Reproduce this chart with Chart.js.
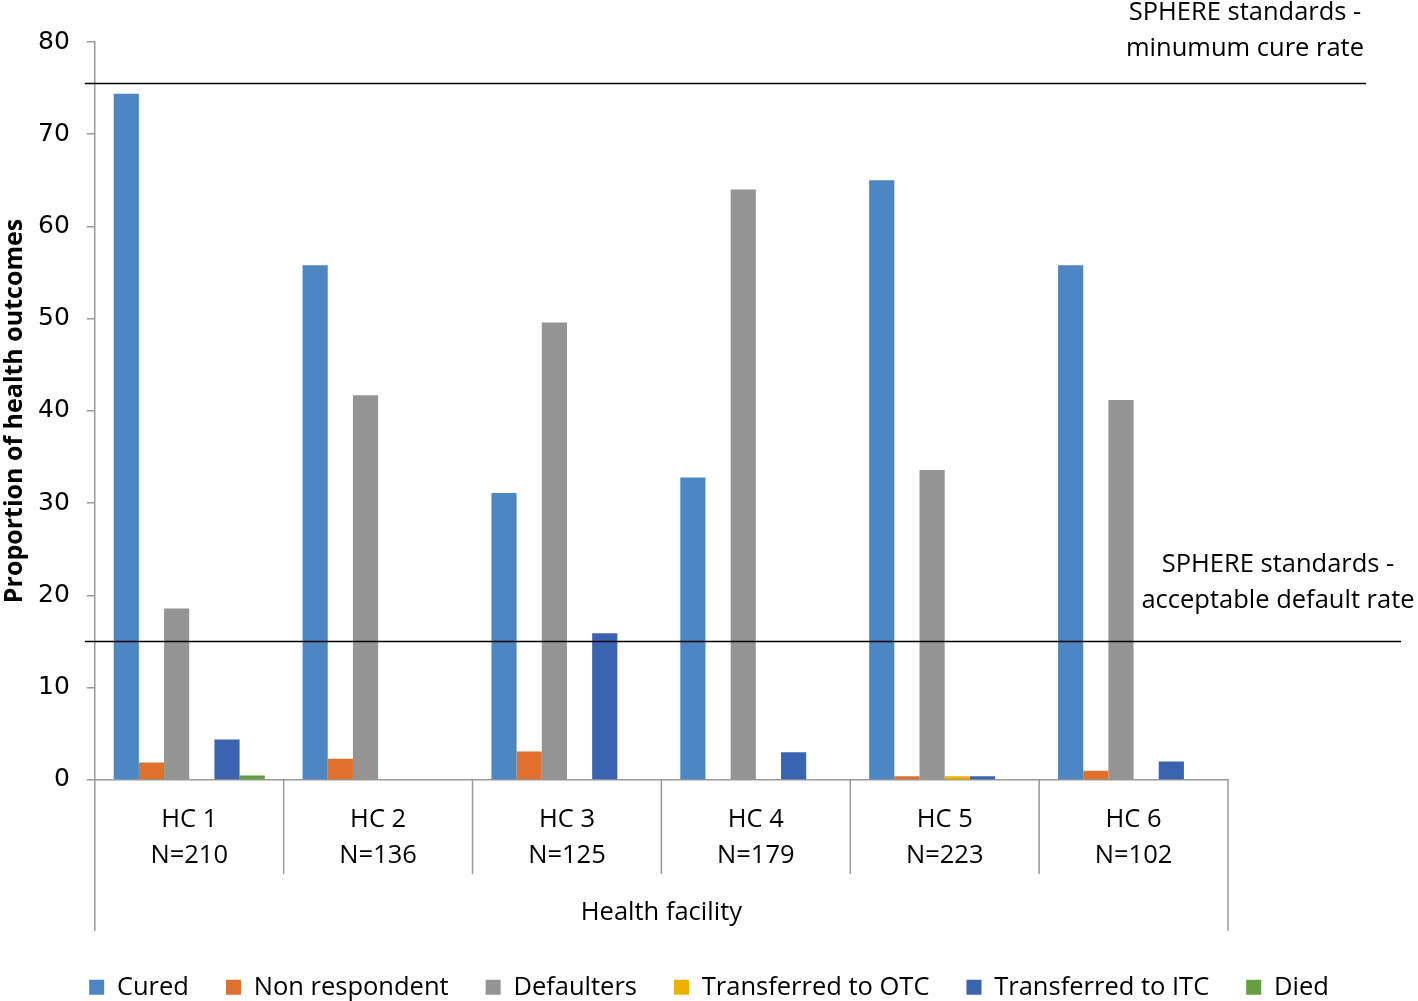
<!DOCTYPE html>
<html>
<head>
<meta charset="utf-8">
<script src="https://cdn.jsdelivr.net/npm/chart.js@4"></script>
<style>
  body { margin: 0; background: #fff; }
  #wrap { width: 1418px; height: 1001px; }
</style>
</head>
<body>
<div id="wrap"><canvas id="outcomeChart"></canvas></div>
<script>
// facilities and sample sizes
const facilities = ['HC 1', 'HC 2', 'HC 3', 'HC 4', 'HC 5', 'HC 6'];
const sampleSizes = ['N=210', 'N=136', 'N=125', 'N=179', 'N=223', 'N=102'];

// outcome proportions per facility
const cured = [74.4, 55.8, 31.1, 32.8, 65.0, 55.8];
const nonRespondent = [1.9, 2.3, 3.1, 0, 0.4, 1.0];
const defaulters = [18.6, 41.7, 49.6, 64.0, 33.6, 41.2];
const transferredOTC = [0, 0, 0, 0, 0.4, 0];
const transferredITC = [4.4, 0, 15.9, 3.0, 0.4, 2.0];
const died = [0.5, 0, 0, 0, 0, 0];

const yTicks = [0, 10, 20, 30, 40, 50, 60, 70, 80];

// SPHERE reference lines (the cure-rate line sits slightly above 75 in the figure)
const cureRateStandard = 75.5;
const defaultRateStandard = 15;

const textFont = '"Open Sans", sans-serif';

// draws the standard lines, their labels and the category separators under the axis
const extrasPlugin = {
    id: 'extras',
    afterDatasetsDraw(chart) {
        const ctx = chart.ctx;
        const area = chart.chartArea;
        const y = chart.scales.y;
        const x = chart.scales.x;
        ctx.save();

        // reference lines
        ctx.strokeStyle = '#000';
        ctx.lineWidth = 1.5;
        const yCure = y.getPixelForValue(cureRateStandard);
        const yDef = y.getPixelForValue(defaultRateStandard);
        ctx.beginPath();
        ctx.moveTo(area.left - 10, yCure);
        ctx.lineTo(area.right + 138, yCure);
        ctx.moveTo(area.left - 10, yDef);
        ctx.lineTo(area.right + 173, yDef);
        ctx.stroke();

        ctx.fillStyle = '#000';
        ctx.font = '25.5px ' + textFont;
        ctx.textAlign = 'center';
        ctx.textBaseline = 'middle';
        ctx.fillText('SPHERE standards -', area.right + 17, yCure - 71);
        ctx.fillText('minumum cure rate', area.right + 17, yCure - 35);
        ctx.fillText('SPHERE standards -', area.right + 50, yDef - 77);
        ctx.fillText('acceptable default rate', area.right + 50, yDef - 41);

        // category separators below the x axis
        const step = (x.right - x.left) / facilities.length;
        ctx.strokeStyle = '#9a9a9a';
        ctx.lineWidth = 1.5;
        ctx.beginPath();
        for (let i = 0; i <= facilities.length; i++) {
            const px = x.left + i * step;
            const outer = (i === 0 || i === facilities.length);
            ctx.moveTo(px, area.bottom);
            ctx.lineTo(px, area.bottom + (outer ? 151 : 94));
        }
        ctx.stroke();

        ctx.restore();
    }
};

const colors = ['#4d87c3', '#e0702e', '#949494', '#f0b000', '#3b64b0', '#64a040'];
const seriesNames = ['Cured', 'Non respondent', 'Defaulters', 'Transferred to OTC', 'Transferred to ITC', 'Died'];
const seriesValues = [cured, nonRespondent, defaulters, transferredOTC, transferredITC, died];

const datasets = seriesNames.map((name, i) => ({
    label: name,
    data: seriesValues[i],
    backgroundColor: colors[i],
    borderWidth: 0,
    categoryPercentage: 0.8,
    barPercentage: 1.0
}));

const ctx = document.getElementById('outcomeChart').getContext('2d');

new Chart(ctx, {
    type: 'bar',
    data: {
        labels: facilities.map((f, i) => [f, sampleSizes[i]]),
        datasets: datasets
    },
    plugins: [extrasPlugin],
    options: {
        responsive: true,
        maintainAspectRatio: false,
        animation: false,
        layout: {
            padding: { top: 42, right: 0, left: 0, bottom: -9 }
        },
        plugins: {
            tooltip: { enabled: false },
            legend: {
                position: 'bottom',
                labels: {
                    font: { family: textFont, size: 25.5 },
                    color: '#000',
                    boxWidth: 15,
                    boxHeight: 15,
                    padding: 37
                }
            }
        },
        scales: {
            y: {
                min: 0,
                max: 80,
                afterBuildTicks: axis => { axis.ticks = yTicks.map(v => ({ value: v })); },
                grid: { drawOnChartArea: false, tickLength: 8, color: '#9a9a9a', lineWidth: 1.5 },
                border: { color: '#9a9a9a', width: 1.5 },
                ticks: {
                    font: { family: '"DejaVu Sans", sans-serif', size: 25 },
                    color: '#000',
                    padding: 17
                },
                title: {
                    display: true,
                    text: 'Proportion of health outcomes',
                    font: { family: textFont, size: 25, weight: 'bold' },
                    color: '#000',
                    padding: { top: 0, bottom: -9 }
                }
            },
            // empty right-hand axis: keeps room for the standard labels without squeezing the legend
            spacer: {
                position: 'right',
                grid: { display: false },
                border: { display: false },
                ticks: { display: false },
                afterFit: scale => { scale.width = 190; }
            },
            x: {
                grid: { display: false },
                border: { color: '#9a9a9a', width: 1.5 },
                ticks: {
                    font: { family: textFont, size: 25.5, lineHeight: 1.41 },
                    color: '#000',
                    padding: 14,
                    maxRotation: 0
                },
                title: {
                    display: true,
                    text: 'Health facility',
                    font: { family: textFont, size: 25.5 },
                    color: '#000',
                    padding: { top: 10, bottom: 9 }
                }
            }
        }
    }
});
</script>
</body>
</html>
